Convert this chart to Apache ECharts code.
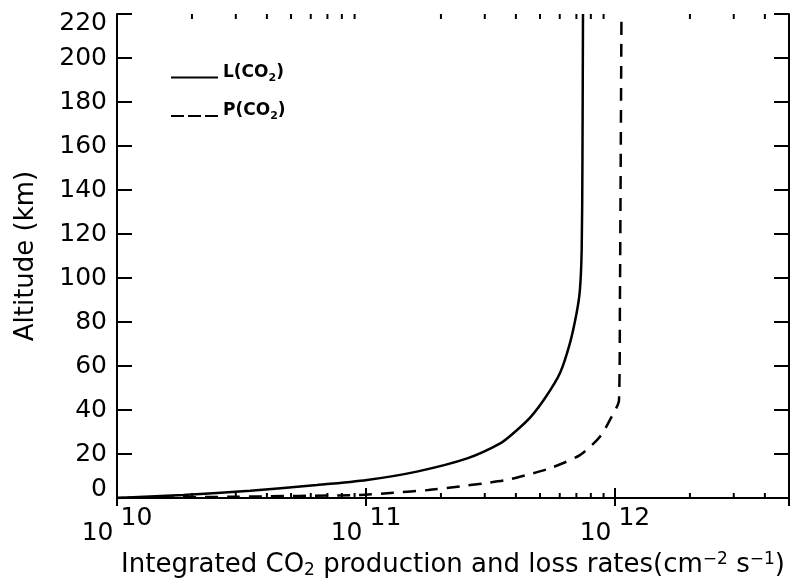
<!DOCTYPE html>
<html>
<head>
<meta charset="utf-8">
<script src="https://cdn.jsdelivr.net/npm/echarts@6/dist/echarts.min.js"></script>
<style>
html,body{margin:0;padding:0;background:#fff;}
#chart{width:798px;height:578px;}
</style>
</head>
<body>
<div id="chart"></div>
<script>
// ---- data ----
const seriesNames = ['L(CO2)', 'P(CO2)'];
// L(CO2): integrated loss rate (cm^-2 s^-1) vs altitude (km)
const altL  = [0, 0.2, 1.4, 3.3, 5.9, 8.2, 12, 18, 24.8, 30, 37, 46, 56.7, 70.3, 84, 94.5, 112.7, 150, 220];
const rateL = [1.0e10, 1.10e10, 1.85e10, 3.43e10, 6.35e10, 1.01e11, 1.60e11, 2.55e11, 3.46e11, 3.96e11, 4.60e11, 5.28e11, 6.01e11, 6.59e11, 7.01e11, 7.23e11, 7.35e11, 7.40e11, 7.44e11];
// P(CO2): integrated production rate
const altP  = [0, 0.6, 1.4, 2.4, 3.6, 5.3, 6.7, 8.2, 10.5, 13.5, 19.5, 27.9, 37, 44.5, 90, 220];
const rateP = [1.0e10, 3.03e10, 9.46e10, 1.29e11, 1.78e11, 2.39e11, 3.0e11, 3.68e11, 4.42e11, 5.48e11, 7.23e11, 8.71e11, 9.7e11, 1.038e12, 1.047e12, 1.062e12];
// axes
const xMin = 1e10, xMax = 5e12;
const xTickExponents = [10, 11, 12];
const xMinorTicks = [2e10,3e10,4e10,5e10,6e10,7e10,8e10,9e10,
                     2e11,3e11,4e11,5e11,6e11,7e11,8e11,9e11,
                     2e12,3e12,4e12];
const yMin = 0, yMax = 220, yStep = 20;

const FONT = 'DejaVu Sans';
const chart = echarts.init(document.getElementById('chart'), null, {renderer: 'canvas'});

function pairs(xs, ys) { return xs.map((x, i) => [x, ys[i]]); }

const xLabelFmt = function (v) {
  const e = Math.round(Math.log10(v));
  if (xTickExponents.indexOf(e) < 0) return '';
  if (Math.abs(v - Math.pow(10, e)) / v > 1e-6) return '';
  return '{b|10}{s|' + e + '}';
};

const option = {
  animation: false,
  backgroundColor: '#fff',
  textStyle: {fontFamily: FONT, color: '#000'},
  grid: {left: 117, right: 9, top: 14, bottom: 80, containLabel: false, outerBoundsMode: 'none'},
  legend: {
    data: [{name: seriesNames[0]}, {name: seriesNames[1], lineStyle: {type: [13, 4]}}],
    orient: 'vertical',
    left: 170, top: 64, padding: 0,
    itemWidth: 47, itemHeight: 14, itemGap: 19,
    itemStyle: {opacity: 0, borderWidth: 0},
    textStyle: {
      fontFamily: FONT, fontSize: 17, fontWeight: 'bold', color: '#000',
      padding: [0, 0, 10, 0],
      rich: {
        n: {fontFamily: FONT, fontSize: 17, fontWeight: 'bold', color: '#000', lineHeight: 22, verticalAlign: 'middle'},
        sub: {fontFamily: FONT, fontSize: 11, fontWeight: 'bold', color: '#000', lineHeight: 11, verticalAlign: 'bottom'}
      }
    },
    formatter: function (name) {
      const m = name.match(/^(.*CO)2(\))$/);
      return '{n|' + m[1] + '}{sub|2}{n|' + m[2] + '}';
    }
  },
  xAxis: [{
    type: 'log', logBase: 10, min: xMin, max: xMax,
    position: 'bottom',
    axisLine: {show: true, lineStyle: {color: '#000', width: 2}},
    axisTick: {show: true, inside: true, length: 10, lineStyle: {color: '#000', width: 2}},
    splitLine: {show: false},
    axisLabel: {
      show: true, margin: 8, color: '#000', fontFamily: FONT, fontSize: 25,
      formatter: xLabelFmt,
      rich: {
        b: {fontFamily: FONT, fontSize: 25, color: '#000', padding: [15, 0, 0, 0], verticalAlign: 'bottom'},
        s: {fontFamily: FONT, fontSize: 25, color: '#000', verticalAlign: 'top', padding: [0, 0, 0, 7]}
      }
    },
    name: '{t|Integrated CO}{sub|2}{t| production and loss rates(cm}{sup|\u22122}{t| s}{sup|\u22121}{t|)}',
    nameLocation: 'middle', nameGap: 50,
    nameTextStyle: {
      fontFamily: FONT, fontSize: 26, color: '#000',
      rich: {
        t: {fontFamily: FONT, fontSize: 26, color: '#000', lineHeight: 28, verticalAlign: 'middle'},
        sub: {fontFamily: FONT, fontSize: 17, color: '#000', lineHeight: 17, verticalAlign: 'bottom'},
        sup: {fontFamily: FONT, fontSize: 17, color: '#000', lineHeight: 17, verticalAlign: 'top'}
      }
    }
  }, {
    type: 'log', logBase: 10, min: xMin, max: xMax,
    position: 'top',
    axisLine: {show: true, lineStyle: {color: '#000', width: 2}},
    axisTick: {show: true, inside: true, length: 8, lineStyle: {color: '#000', width: 2}},
    axisLabel: {show: false},
    splitLine: {show: false}
  }],
  yAxis: [{
    type: 'value', min: yMin, max: yMax, interval: yStep,
    position: 'left',
    axisLine: {show: true, lineStyle: {color: '#000', width: 2}},
    axisTick: {show: true, inside: true, length: 15, lineStyle: {color: '#000', width: 2}},
    splitLine: {show: false},
    axisLabel: {
      show: true, margin: 10, color: '#000', fontFamily: FONT, fontSize: 25, lineHeight: 18,
      verticalAlignMaxLabel: 'top', verticalAlignMinLabel: 'bottom'
    },
    name: 'Altitude (km)',
    nameLocation: 'middle', nameGap: 78, nameRotate: 90,
    nameTextStyle: {fontFamily: FONT, fontSize: 26, color: '#000'}
  }, {
    type: 'value', min: yMin, max: yMax, interval: yStep,
    position: 'right',
    axisLine: {show: true, lineStyle: {color: '#000', width: 2}},
    axisTick: {show: true, inside: true, length: 15, lineStyle: {color: '#000', width: 2}},
    axisLabel: {show: false},
    splitLine: {show: false}
  }],
  series: [{
    name: seriesNames[0], type: 'line',
    xAxisIndex: 0, yAxisIndex: 0,
    data: pairs(rateL, altL),
    showSymbol: false, symbol: 'none', smooth: 0.25,
    lineStyle: {color: '#000', width: 2.5, type: 'solid'},
    itemStyle: {color: '#000'}
  }, {
    name: seriesNames[1], type: 'line',
    xAxisIndex: 0, yAxisIndex: 0,
    data: pairs(rateP, altP),
    showSymbol: false, symbol: 'none', smooth: 0.25,
    lineStyle: {color: '#000', width: 2.5, type: [13, 9]},
    itemStyle: {color: '#000'}
  }, {
    name: 'minorTicks', type: 'custom',
    xAxisIndex: 0, yAxisIndex: 0,
    silent: true, clip: false, z: 5,
    data: xMinorTicks.map(v => [v, 0]),
    encode: {x: 0, y: 1},
    renderItem: function (params, api) {
      const x = api.coord([api.value(0), 0])[0];
      const cs = params.coordSys;
      const st = {stroke: '#000', lineWidth: 2};
      return {type: 'group', children: [
        {type: 'line', shape: {x1: x, y1: cs.y + cs.height, x2: x, y2: cs.y + cs.height - 5}, style: st},
        {type: 'line', shape: {x1: x, y1: cs.y, x2: x, y2: cs.y + 5}, style: st}
      ]};
    }
  }]
};
chart.setOption(option);
</script>
</body>
</html>
